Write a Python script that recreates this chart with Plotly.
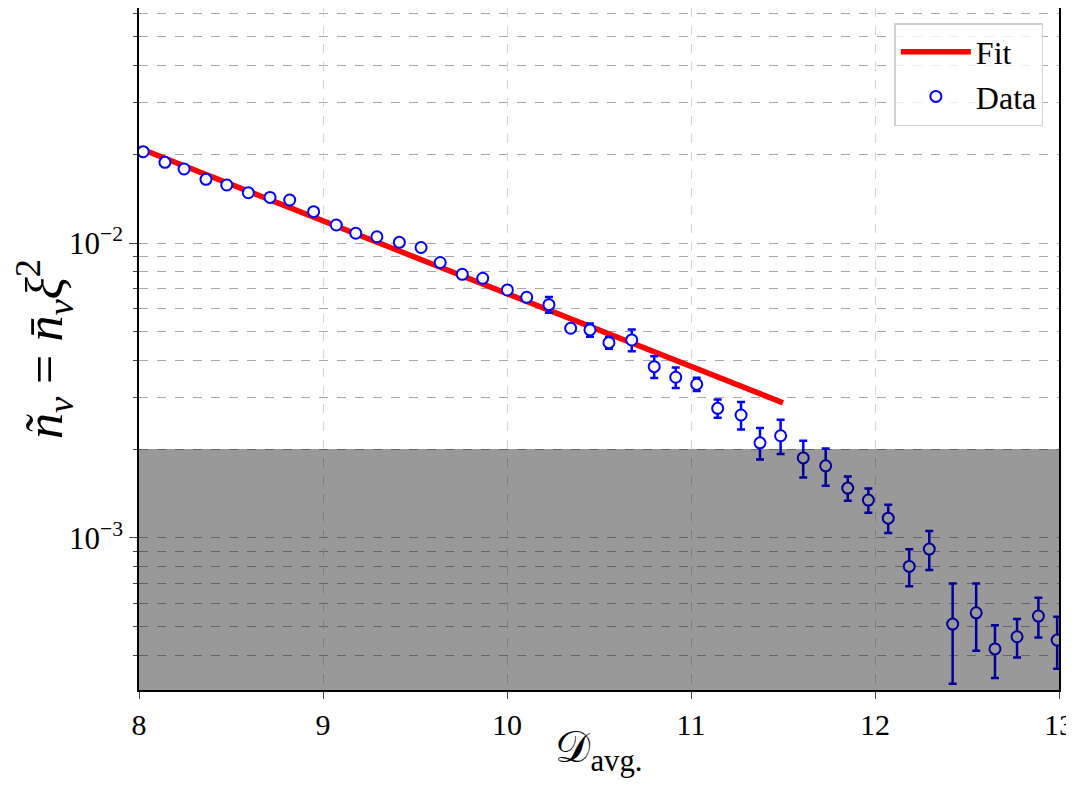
import plotly.graph_objects as go

# data
d_avg = [8.023, 8.141, 8.245, 8.364, 8.477, 8.594, 8.712, 8.819, 8.949, 9.072,
         9.178, 9.293, 9.415, 9.533, 9.637, 9.757, 9.868, 10.002, 10.107, 10.228,
         10.346, 10.451, 10.554, 10.678, 10.800, 10.917, 11.031, 11.145, 11.272, 11.375,
         11.487, 11.610, 11.732, 11.852, 11.964, 12.072, 12.186, 12.295, 12.422, 12.550,
         12.652, 12.772, 12.888, 12.990]
n_v = [2.04e-2, 1.877e-2, 1.782e-2, 1.644e-2, 1.573e-2, 1.481e-2, 1.428e-2, 1.399e-2, 1.277e-2, 1.151e-2,
       1.079e-2, 1.05e-2, 1.005e-2, 0.9655e-2, 0.8587e-2, 0.7833e-2, 0.7591e-2, 0.693e-2, 0.6545e-2, 0.6177e-2,
       0.5139e-2, 0.5073e-2, 0.4592e-2, 0.469e-2, 0.3807e-2, 0.3505e-2, 0.3319e-2, 2.75e-3, 2.61e-3, 2.10e-3,
       2.22e-3, 1.867e-3, 1.755e-3, 1.475e-3, 1.343e-3, 1.166e-3, 0.80e-3, 0.916e-3, 0.51e-3, 0.557e-3,
       0.42e-3, 0.462e-3, 0.543e-3, 0.45e-3]
n_err = [0.15e-3, 0.14e-3, 0.13e-3, 0.12e-3, 0.12e-3, 0.11e-3, 0.11e-3, 0.11e-3, 0.10e-3, 0.10e-3,
         0.10e-3, 0.10e-3, 0.10e-3, 0.10e-3, 0.12e-3, 0.15e-3, 0.12e-3, 0.12e-3, 0.12e-3, 0.38e-3,
         0.14e-3, 0.26e-3, 0.21e-3, 0.40e-3, 0.32e-3, 0.28e-3, 0.17e-3, 0.195e-3, 0.28e-3, 0.257e-3,
         0.295e-3, 0.266e-3, 0.253e-3, 0.14e-3, 0.127e-3, 0.128e-3, 0.115e-3, 0.138e-3, 0.19e-3, 0.143e-3,
         0.085e-3, 0.069e-3, 0.084e-3, 0.09e-3]

fit_x = [8.0, 11.5]
fit_y = [2.10e-2, 2.87e-3]

shade_top = 2e-3
y_major = [1e-3, 1e-2]
y_major_text = ["10<sup>\u22123</sup>", "10<sup>\u22122</sup>"]
y_minor = [k * 10.0 ** e for e in (-4, -3, -2) for k in range(2, 10)]

font = "Liberation Serif, Times New Roman, serif"

fig = go.Figure()
fig.add_trace(go.Scatter(x=fit_x, y=fit_y, mode="lines", name="Fit",
                         line=dict(color="#ff0000", width=5.5)))
fig.add_trace(go.Scatter(x=d_avg, y=n_v, mode="markers", name="Data",
                         marker=dict(symbol="circle", size=11, color="white",
                                     line=dict(width=2, color="#0000ff")),
                         error_y=dict(type="data", array=n_err, visible=True,
                                      color="#0000ff", thickness=2.5, width=4)))

# shaded region, drawn on top like the original
fig.add_shape(type="rect", xref="paper", x0=0, x1=1, yref="y", y0=1e-4, y1=shade_top,
              fillcolor="rgba(0,0,0,0.4)", line=dict(width=0), layer="above")

# page body has an 8px margin all round, keep the figure inside the window
fig.update_layout(
    width=1066, height=770,
    margin=dict(l=131, r=15, t=0, b=88),
    plot_bgcolor="white", paper_bgcolor="white",
    font=dict(family=font, size=30, color="black"),
    legend=dict(x=0.983, y=0.978, xanchor="right", yanchor="top",
                bordercolor="#d0d0d0", borderwidth=1.5, bgcolor="rgba(255,255,255,0.8)",
                font=dict(family=font, size=32), itemwidth=70, tracegroupgap=8),
    showlegend=True,
)
fig.update_xaxes(range=[8, 13], dtick=1, tick0=8, showline=True, mirror=True,
                 linecolor="black", linewidth=1.5, ticks="outside", ticklen=7,
                 tickfont=dict(family=font, size=30),
                 showgrid=True, gridcolor="#d3d3d3", griddash="dash", gridwidth=1,
                 zeroline=False, automargin=False,
                 title=dict(text="\U0001D49F<sub>avg.</sub>", font=dict(family=font, size=44), standoff=0))
fig.update_yaxes(type="log", range=[-3.516, -1.203], tickmode="array",
                 tickvals=y_major, ticktext=y_major_text,
                 tickfont=dict(family=font, size=31),
                 showline=True, mirror=True, linecolor="black", linewidth=1.5,
                 ticks="outside", ticklen=8,
                 showgrid=True, gridcolor="#a8a8a8", griddash="dash", gridwidth=1,
                 minor=dict(tickmode="array", tickvals=y_minor, ticks="outside", ticklen=4,
                            showgrid=True, gridcolor="#a8a8a8", griddash="dash", gridwidth=1),
                 zeroline=False, automargin=False,
                 title=dict(text="<i>\u00f1<sub>v</sub></i> = <i>n\u0304<sub>v</sub>\u03be</i><sup>2</sup>",
                            font=dict(family=font, size=52), standoff=6))

fig.write_html("out.html")
